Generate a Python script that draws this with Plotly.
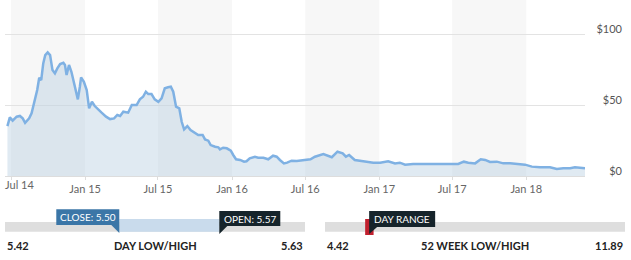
import plotly.graph_objects as go

# ---------------- data ----------------
dates = [
    '2014-06-22', '2014-06-28', '2014-07-05', '2014-07-15', '2014-07-23', '2014-07-30',
    '2014-08-05', '2014-08-15', '2014-08-21', '2014-08-30', '2014-09-04', '2014-09-09',
    '2014-09-14', '2014-09-19', '2014-09-24', '2014-09-30', '2014-10-06', '2014-10-12',
    '2014-10-18', '2014-10-24', '2014-10-31', '2014-11-08', '2014-11-12', '2014-11-16',
    '2014-11-22', '2014-11-28', '2014-12-04', '2014-12-09', '2014-12-14', '2014-12-19',
    '2014-12-22', '2014-12-29', '2015-01-05', '2015-01-11', '2015-01-18', '2015-01-25',
    '2015-02-03', '2015-02-11', '2015-02-22', '2015-03-04', '2015-03-14', '2015-03-22',
    '2015-03-29', '2015-04-06', '2015-04-18', '2015-04-27', '2015-05-09', '2015-05-17',
    '2015-05-25', '2015-06-01', '2015-06-07', '2015-06-15', '2015-06-23', '2015-07-02',
    '2015-07-10', '2015-07-18', '2015-07-26', '2015-08-02', '2015-08-08', '2015-08-15',
    '2015-08-23', '2015-08-29', '2015-09-04', '2015-09-12', '2015-09-20', '2015-10-01',
    '2015-10-09', '2015-10-20', '2015-10-26', '2015-11-03', '2015-11-09', '2015-11-20',
    '2015-11-28', '2015-12-02', '2015-12-10', '2015-12-19', '2015-12-29', '2016-01-04',
    '2016-01-11', '2016-01-21', '2016-01-31', '2016-02-06', '2016-02-14', '2016-02-27',
    '2016-03-06', '2016-03-19', '2016-03-31', '2016-04-12', '2016-04-21', '2016-04-29',
    '2016-05-09', '2016-05-17', '2016-05-28', '2016-06-10', '2016-06-22', '2016-07-04',
    '2016-07-14', '2016-07-25', '2016-08-05', '2016-08-15', '2016-09-05', '2016-09-19',
    '2016-10-02', '2016-10-10', '2016-10-18', '2016-11-01', '2016-11-22', '2016-12-17',
    '2017-01-03', '2017-01-23', '2017-02-09', '2017-02-21', '2017-03-06', '2017-03-26',
    '2017-04-20', '2017-05-15', '2017-06-09', '2017-06-26', '2017-07-16', '2017-07-30',
    '2017-08-10', '2017-08-27', '2017-09-10', '2017-09-21', '2017-10-03', '2017-10-20',
    '2017-11-05', '2017-11-22', '2017-12-08', '2017-12-29', '2018-01-15', '2018-02-04',
    '2018-03-01', '2018-03-18', '2018-04-03', '2018-04-20', '2018-05-02', '2018-05-15',
    '2018-05-27',
]
prices = [
    35.2, 41.3, 39.0, 41.8, 42.3, 40.6,
    37.5, 40.6, 44.1, 53.5, 60.6, 69.2,
    67.6, 79.3, 85.2, 87.1, 85.2, 74.6,
    72.3, 75.8, 78.9, 79.8, 78.2, 71.1,
    78.2, 73.4, 65.3, 58.2, 54.0, 62.9,
    69.5, 66.4, 60.6, 47.7, 52.3, 49.3,
    46.5, 44.6, 41.8, 40.1, 40.6, 43.0,
    42.3, 45.3, 44.6, 50.0, 50.0, 54.0,
    55.8, 59.4, 57.7, 57.7, 54.0, 52.3,
    54.7, 61.8, 62.5, 62.9, 59.4, 48.8,
    47.7, 38.2, 32.9, 35.2, 32.4, 30.1,
    28.9, 28.9, 25.8, 24.9, 21.8, 20.6,
    20.2, 18.8, 19.9, 19.5, 17.8, 14.8,
    11.8, 11.3, 10.1, 10.4, 12.5, 13.6,
    12.9, 12.9, 11.8, 14.3, 13.6, 11.3,
    8.9, 9.4, 10.8, 10.6, 11.1, 11.3,
    11.8, 13.6, 14.8, 15.5, 13.2, 17.1,
    16.0, 13.6, 14.8, 11.3, 10.4, 9.4,
    9.4, 10.4, 8.9, 9.4, 8.0, 8.5,
    8.5, 8.5, 8.0, 8.2, 8.5, 10.1,
    9.4, 8.9, 11.8, 11.3, 9.9, 10.1,
    8.9, 8.9, 8.5, 8.0, 6.6, 6.1,
    6.1, 4.9, 5.4, 5.4, 6.1, 5.8,
    5.5,
]
tick_dates = ['2014-07-01', '2015-01-01', '2015-07-01', '2016-01-01',
              '2016-07-01', '2017-01-01', '2017-07-01', '2018-01-01']
tick_labels = ['Jul 14', 'Jan 15', 'Jul 15', 'Jan 16', 'Jul 16', 'Jan 17', 'Jul 17', 'Jan 18']
band_starts = ['2014-07-01', '2015-07-01', '2016-07-01', '2017-07-01']
band_ends = ['2015-01-01', '2016-01-01', '2017-01-01', '2018-01-01']
y_ticks = [0, 50, 100]
y_labels = ['$0', '$50', '$100']

day_low, day_high = 5.42, 5.63
close_price, open_price = 5.50, 5.57
wk_low, wk_high = 4.42, 11.89

# ---------------- layout helpers ----------------
W, H = 631, 260
FONT = 'Lato'


def py(p):
    return 1 - p / H


fig = go.Figure()
fig.add_trace(go.Scatter(
    x=dates, y=prices, mode='lines',
    line=dict(color='#7fb1e3', width=2.5),
    fill='tozeroy', fillcolor='rgba(180,205,225,0.42)',
    hoverinfo='skip', showlegend=False, xaxis='x', yaxis='y'))
# invisible anchors for the range bars
fig.add_trace(go.Scatter(x=[day_low, day_high], y=[0, 0], mode='markers',
                         marker=dict(opacity=0), hoverinfo='skip', showlegend=False,
                         xaxis='x2', yaxis='y2'))
fig.add_trace(go.Scatter(x=[wk_low, wk_high], y=[0, 0], mode='markers',
                         marker=dict(opacity=0), hoverinfo='skip', showlegend=False,
                         xaxis='x3', yaxis='y2'))

shapes = []
for s, e in zip(band_starts, band_ends):
    shapes.append(dict(type='rect', xref='x', yref='y domain', x0=s, x1=e, y0=0, y1=1,
                       fillcolor='#f7f7f7', line=dict(width=0), layer='below'))

GRAY = '#dedede'
# day range bar
shapes.append(dict(type='rect', xref='x2', yref='paper', x0=day_low, x1=day_high,
                   y0=py(231.7), y1=py(222), fillcolor=GRAY, line=dict(width=0)))
shapes.append(dict(type='rect', xref='x2', yref='paper', x0=close_price, x1=open_price,
                   y0=py(231.7), y1=py(219), fillcolor='#c9dbec', line=dict(width=0)))
# close box + pointer
shapes.append(dict(type='rect', xref='x2', yref='paper', xsizemode='pixel', xanchor=close_price,
                   x0=-63, x1=0, y0=py(225), y1=py(209.3), fillcolor='#3b76a7', line=dict(width=0)))
shapes.append(dict(type='path', xref='x2', yref='paper', xsizemode='pixel', xanchor=close_price,
                   ysizemode='pixel', yanchor=py(225), path='M -8,0 L 0,0 L 0,-8 Z',
                   fillcolor='#3b76a7', line=dict(width=0)))
# open box + pointer
shapes.append(dict(type='rect', xref='x2', yref='paper', xsizemode='pixel', xanchor=open_price,
                   x0=0, x1=61, y0=py(226), y1=py(211), fillcolor='#16242b', line=dict(width=0)))
shapes.append(dict(type='path', xref='x2', yref='paper', xsizemode='pixel', xanchor=open_price,
                   ysizemode='pixel', yanchor=py(226), path='M 0,0 L 8,0 L 0,-8 Z',
                   fillcolor='#16242b', line=dict(width=0)))
# 52 week bar
shapes.append(dict(type='rect', xref='x3', yref='paper', x0=wk_low, x1=wk_high,
                   y0=py(231.7), y1=py(222), fillcolor=GRAY, line=dict(width=0)))
shapes.append(dict(type='rect', xref='x3', yref='paper', x0=day_low, x1=day_high,
                   y0=py(235), y1=py(219), fillcolor='#c1202e', line=dict(width=0)))
shapes.append(dict(type='rect', xref='x3', yref='paper', xsizemode='pixel', xanchor=day_low,
                   x0=4, x1=70, y0=py(227), y1=py(211), fillcolor='#16242b', line=dict(width=0)))
shapes.append(dict(type='path', xref='x3', yref='paper', xsizemode='pixel', xanchor=day_low,
                   ysizemode='pixel', yanchor=py(227), path='M 4,0 L 12,0 L 4,-7 Z',
                   fillcolor='#16242b', line=dict(width=0)))

ann = []
ann.append(dict(text=tick_labels[0], xref='x', x=tick_dates[0], xshift=8, xanchor='center',
                yref='paper', y=py(184.5), yanchor='middle', showarrow=False,
                font=dict(family=FONT, size=11, color='#666')))
white = dict(family=FONT, size=10, color='white')
ann.append(dict(text=f'CLOSE: {close_price:.2f}', xref='x2', x=close_price, xshift=-31.5,
                xanchor='center', yref='paper', y=py(217.3), yanchor='middle',
                showarrow=False, font=white))
ann.append(dict(text=f'OPEN: {open_price:.2f}', xref='x2', x=open_price, xshift=30.5,
                xanchor='center', yref='paper', y=py(218.5), yanchor='middle',
                showarrow=False, font=white))
ann.append(dict(text='DAY RANGE', xref='x3', x=day_low, xshift=37,
                xanchor='center', yref='paper', y=py(219), yanchor='middle',
                showarrow=False, font=white))
bold = dict(family=FONT, size=11, color='#222', weight=700)
lab_y = py(245.5)
ann += [
    dict(text=f'{day_low:.2f}', xref='x2', x=day_low, xanchor='left', yref='paper', y=lab_y,
         yanchor='middle', showarrow=False, font=bold),
    dict(text='DAY LOW/HIGH', xref='x2 domain', x=0.5, xanchor='center', yref='paper', y=lab_y,
         yanchor='middle', showarrow=False, font=bold),
    dict(text=f'{day_high:.2f}', xref='x2', x=day_high, xanchor='right', yref='paper', y=lab_y,
         yanchor='middle', showarrow=False, font=bold),
    dict(text=f'{wk_low:.2f}', xref='x3', x=wk_low, xanchor='left', yref='paper', y=lab_y,
         yanchor='middle', showarrow=False, font=bold),
    dict(text='52 WEEK LOW/HIGH', xref='x3 domain', x=0.5, xanchor='center', yref='paper', y=lab_y,
         yanchor='middle', showarrow=False, font=bold),
    dict(text=f'{wk_high:.2f}', xref='x3', x=wk_high, xanchor='right', yref='paper', y=lab_y,
         yanchor='middle', showarrow=False, font=bold),
]

fig.update_layout(
    width=W, height=H, margin=dict(l=0, r=0, t=0, b=0),
    paper_bgcolor='white', plot_bgcolor='white',
    showlegend=False, hovermode=False,
    font=dict(family=FONT),
    xaxis=dict(type='date', range=['2014-06-16', '2018-05-27'], domain=[5 / W, 585 / W],
               anchor='y', tickvals=tick_dates, ticktext=[''] + tick_labels[1:],
               ticks='outside', ticklen=3, tickcolor='#dddddd', showline=True,
               linecolor='#dddddd', linewidth=1, showgrid=False, zeroline=False,
               tickfont=dict(family=FONT, size=11, color='#666'), automargin=False,
               fixedrange=True),
    yaxis=dict(range=[0, 124], domain=[1 - 176 / H, 1], anchor='free', position=622 / W,
               side='left', ticklabelposition='outside top', ticklabelshift=3,
               tickvals=y_ticks,
               ticktext=y_labels, showgrid=True, gridcolor='#e3e3e3', gridwidth=1,
               zeroline=False, showline=False, ticks='',
               tickfont=dict(family=FONT, size=11, color='#555'), automargin=False,
               fixedrange=True),
    xaxis2=dict(domain=[5 / W, 305 / W], range=[day_low, day_high], anchor='y2',
                visible=False, fixedrange=True),
    xaxis3=dict(domain=[325 / W, 625 / W], range=[wk_low, wk_high], anchor='y2',
                visible=False, fixedrange=True),
    yaxis2=dict(domain=[0, 0.25], range=[0, 1], visible=False, fixedrange=True),
    shapes=shapes, annotations=ann,
)

fig.write_html('out.html', config={'displayModeBar': False})
